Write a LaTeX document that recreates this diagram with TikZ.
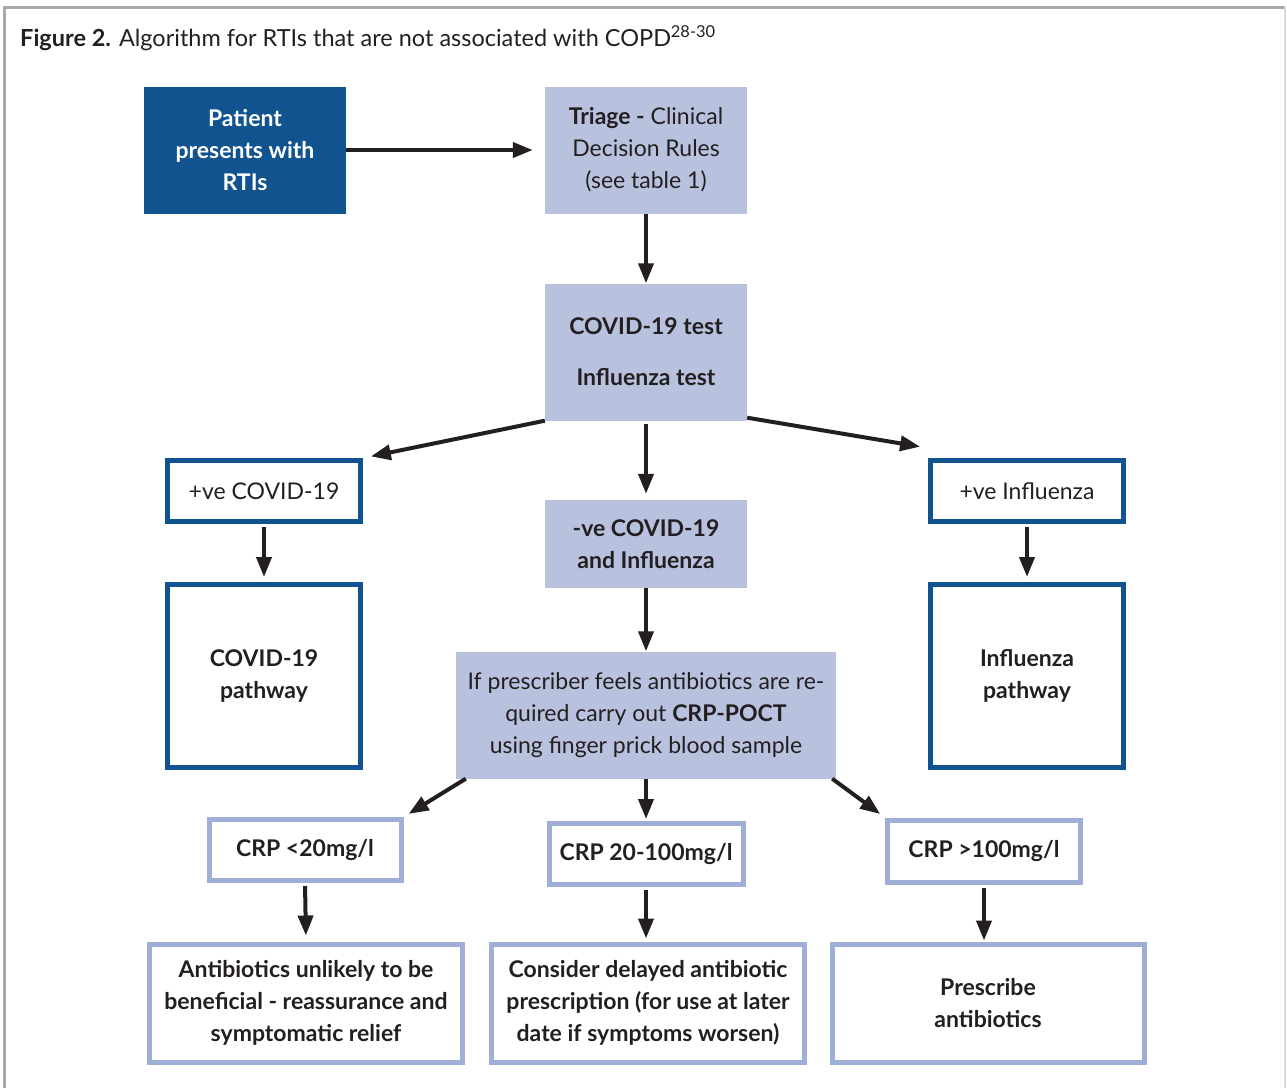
\documentclass[tikz,border=0pt]{standalone}
\usepackage{fontspec}
\setmainfont{Lato}
\usetikzlibrary{arrows.meta}

\definecolor{darkblue}{RGB}{16,83,143}
\definecolor{lightfill}{RGB}{184,194,223}
\definecolor{crpline}{RGB}{158,174,214}
\definecolor{textgray}{RGB}{35,31,32}
\definecolor{framegray}{RGB}{168,168,168}

\begin{document}
\begin{tikzpicture}[
    x=1pt, y=-1pt,
    every node/.style={font=\fontsize{23}{32}\selectfont, align=center, inner sep=0pt, text=textgray},
    darkbox/.style={fill=darkblue, text=white, font=\fontsize{23}{32}\selectfont\bfseries, minimum width=202, minimum height=127},
    lightbox/.style={fill=lightfill, minimum width=202},
    bluebox/.style={draw=darkblue, line width=5, fill=white, minimum width=193},
    crpbox/.style={draw=crpline, line width=5, fill=white, font=\fontsize{23}{32}\selectfont\bfseries},
    arrow/.style={draw=textgray, line width=4, -{Triangle[length=20,width=15]}}
]
\useasboundingbox (0,0) rectangle (1287,1088);

% frame
\draw[framegray, line width=3] (4,1088) -- (4,7) -- (1285,7);
\draw[black!15, line width=2] (1285,7) -- (1285,1088);

% title
\node[anchor=west, font=\fontsize{23.5}{26}\selectfont] (title) at (20,38)
    {\textbf{Figure 2.} Algorithm for RTIs that are not associated with COPD\textsuperscript{28-30}};

% top row
\node[darkbox] (patient) at (245,150) {Patient\\presents with\\RTIs};
\node[lightbox, minimum height=127] (triage) at (646,150) {\textbf{Triage -} Clinical\\Decision Rules\\(see table 1)};
\node[lightbox, minimum height=137, font=\fontsize{23}{32}\selectfont\bfseries] (tests) at (646,352) {COVID-19 test\\[19pt]Influenza test};

% test results
\node[bluebox, minimum height=61] (poscovid) at (264,491) {+ve COVID-19};
\node[bluebox, minimum height=61] (posflu) at (1027,491) {+ve Influenza};
\node[lightbox, minimum height=88, font=\fontsize{23}{32}\selectfont\bfseries] (negative) at (646,544) {-ve COVID-19\\and Influenza};

% pathways
\node[bluebox, minimum height=183, font=\fontsize{23}{32}\selectfont\bfseries] (covidpath) at (264,676) {COVID-19\\pathway};
\node[bluebox, minimum height=183, font=\fontsize{23}{32}\selectfont\bfseries] (flupath) at (1027,676) {Influenza\\pathway};

% CRP test
\node[lightbox, minimum width=380, minimum height=127] (crp) at (646,715)
    {If prescriber feels antibiotics are re-\\quired carry out \textbf{CRP-POCT}\\using finger prick blood sample};

% CRP results
\node[crpbox, minimum width=192, minimum height=61] (crplow) at (305,850) {CRP <20mg/l};
\node[crpbox, minimum width=194, minimum height=61] (crpmid) at (646,854) {CRP 20-100mg/l};
\node[crpbox, minimum width=193, minimum height=62] (crphigh) at (984,851) {CRP >100mg/l};

% actions
\node[crpbox, minimum width=313, minimum height=118] (reassure) at (306,1003) {Antibiotics unlikely to be\\beneficial - reassurance and\\symptomatic relief};
\node[crpbox, minimum width=313, minimum height=118] (delayed) at (648,1003) {Consider delayed antibiotic\\prescription (for use at later\\date if symptoms worsen)};
\node[crpbox, minimum width=312, minimum height=118] (prescribe) at (988,1003) {Prescribe\\antibiotics};

% arrows
\draw[arrow, shorten >=12] (patient.east) -- (triage.west);
\draw[arrow] (triage.south) -- (tests.north);
\draw[arrow, shorten >=8] (tests.south west) -- (poscovid.north east);
\draw[arrow, shorten <=3, shorten >=6] (tests.south) -- (negative.north);
\draw[arrow, shorten >=8] ([yshift=3]tests.south east) -- ([yshift=10]posflu.north west);
\draw[arrow, shorten <=3, shorten >=5] (poscovid.south) -- (covidpath.north);
\draw[arrow, shorten <=3, shorten >=5] (posflu.south) -- (flupath.north);
\draw[arrow] (negative.south) -- (crp.north);
\draw[arrow, shorten >=6] ([xshift=10]crp.south west) -- (crplow.north east);
\draw[arrow, shorten >=2] (crp.south) -- (crpmid.north);
\draw[arrow, shorten >=6] ([xshift=-4]crp.south east) -- (crphigh.north west);
\draw[arrow, shorten <=3, shorten >=6] (crplow.south) -- (reassure.north);
\draw[arrow, shorten <=3, shorten >=3] (crpmid.south) -- ([xshift=-2]delayed.north);
\draw[arrow, shorten <=3, shorten >=1] (crphigh.south) -- ([xshift=-4]prescribe.north);
\end{tikzpicture}
\end{document}
